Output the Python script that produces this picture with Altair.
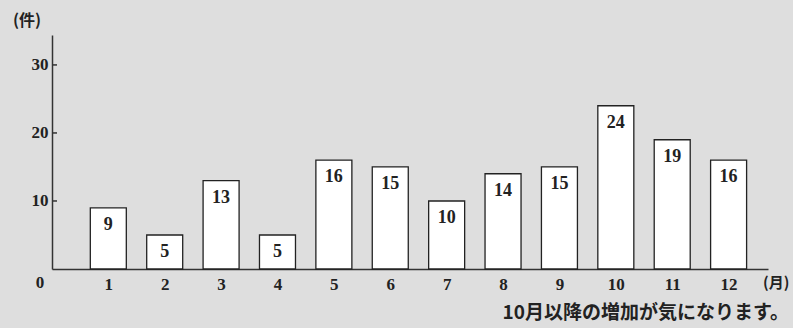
import altair as alt
import pandas as pd

months = [1, 2, 3, 4, 5, 6, 7, 8, 9, 10, 11, 12]
counts = [9, 5, 13, 5, 16, 15, 10, 14, 15, 24, 19, 16]
y_ticks = [10, 20, 30]
caption = "10月以降の増加が気になります。"
y_unit = "(件)"
x_unit = "(月)"

df = pd.DataFrame({"month": months, "count": counts})
SERIF = "Liberation Serif"
CJK = "Noto Sans CJK JP"

xs = alt.Scale(domain=[0.09, 12.61], nice=False, zero=False)
ys = alt.Scale(domain=[0, 34.4], nice=False)

bars = alt.Chart(df).mark_bar(
    size=36, color="white", stroke="#222", strokeWidth=1.3
).encode(
    x=alt.X("month:Q", scale=xs, axis=alt.Axis(
        values=months, title=None, grid=False, tickSize=0, labelPadding=7,
        labelFont=SERIF, labelFontSize=17, labelFontWeight="bold", labelColor="#222",
        domainColor="#333", domainWidth=1.5, format="d")),
    y=alt.Y("count:Q", scale=ys, axis=alt.Axis(
        values=y_ticks, title=None, grid=False, tickSize=0, labelPadding=4,
        labelFont=SERIF, labelFontSize=17, labelFontWeight="bold", labelColor="#222",
        domainColor="#333", domainWidth=1.5)),
)

labels = alt.Chart(df).mark_text(
    font=SERIF, fontSize=18, fontWeight="bold", color="#222", baseline="middle", dy=17
).encode(x=alt.X("month:Q", scale=xs), y=alt.Y("count:Q", scale=ys), text="count:Q")

tick_df = pd.DataFrame({"v": y_ticks})
ticks = alt.Chart(tick_df).mark_rule(color="#333", strokeWidth=1.5).encode(
    y=alt.Y("v:Q", scale=ys), x=alt.value(0), x2=alt.value(5)
)

zero = alt.Chart(pd.DataFrame({"v": [0]})).mark_text(
    font=SERIF, fontSize=17, fontWeight="bold", color="#222", align="center", baseline="middle", dy=14
).encode(y=alt.Y("v:Q", scale=ys), x=alt.value(-12), text=alt.value("0"))

xunit = alt.Chart(pd.DataFrame({"v": [0]})).mark_text(
    font=CJK, fontSize=15, fontWeight="bold", color="#222", align="left", baseline="middle", dy=14
).encode(y=alt.Y("v:Q", scale=ys), x=alt.value(711), text=alt.value(x_unit))

yunit = alt.Chart(pd.DataFrame({"v": [0]})).mark_text(
    font=CJK, fontSize=16, fontWeight="bold", color="#222", align="center", baseline="middle"
).encode(y=alt.value(-14), x=alt.value(-25), text=alt.value(y_unit))

cap = alt.Chart(pd.DataFrame({"v": [0]})).mark_text(
    font=CJK, fontSize=19, fontWeight="bold", color="#222", align="right", baseline="middle", dy=44
).encode(y=alt.Y("v:Q", scale=ys), x=alt.value(737), text=alt.value(caption))

chart = alt.layer(bars, labels, ticks, zero, xunit, yunit, cap).properties(
    width=716, height=234,
    autosize=alt.AutoSizeParams(type="none"),
    padding={"left": 52, "top": 35, "right": 25, "bottom": 59},
    background="#dedede",
).configure_view(stroke=None)

chart.save("out.html", embed_options={"renderer": "svg", "actions": False})
